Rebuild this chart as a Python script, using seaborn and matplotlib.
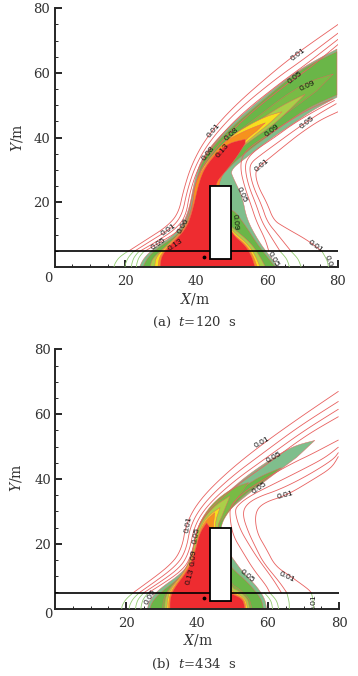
import matplotlib
matplotlib.use('Agg')
import matplotlib.pyplot as plt
import seaborn as sns

sns.set_style('ticks')
plt.rcParams['font.family'] = ['DejaVu Serif']
plt.rcParams['mathtext.fontset'] = 'dejavuserif'

TEAL = '#7fbe8c'
GREEN = '#6ab648'
TIP = '#78bb45'
LIME = '#aacf48'
YELLOW = '#f6e01e'
ORANGE = '#f6921e'
RED = '#ee2c30'
RED_LINE = '#e8605f'
GREEN_LINE = '#93cc70'

tick_values = [20, 40, 60, 80]
building_x = [43.8, 49.7]
building_y = [2.5, 24.9]
road_y = 4.8

# panel a, filled bands, outer to inner
a_teal = [(24, 0), (25, 2.5), (28, 5.8), (34.5, 10.4), (37.8, 16.6), (39.7, 28), (42, 34.6), (48.6, 42.9), (59, 52.7),
          (69.3, 61.4), (79.7, 67.4), (79.7, 52.5), (73, 48.6), (67.5, 44.4), (61.8, 40.3), (54.3, 34), (49.6, 30),
          (50.5, 27.4), (53, 21.8), (54.3, 14.5), (58, 7.3), (61, 3), (63, 0)]
a_green = [(25, 0), (26, 2.5), (28.9, 5.8), (35.5, 10.4), (38.5, 16.6), (40.2, 28), (42.5, 34.6), (49.6, 42.9), (60, 52.7),
           (69.8, 61.4), (79.7, 66.6), (79.7, 53.2), (72.2, 49.6), (66.5, 45.5), (60, 40.3), (52.4, 34.1), (47.7, 29),
           (44.9, 24.8), (47, 15), (49.8, 18.7), (53.8, 13), (57.1, 7.3), (60, 3.2), (62.3, 0)]
a_tip = [(78.7, 59.7), (72, 57.5), (65, 53), (58, 47), (52, 42), (47, 38), (46, 33), (52, 37), (60, 43.5), (68, 49.5), (74, 54.5)]
a_lime = [(70.7, 53.4), (64.6, 50.2), (59, 46.3), (52, 41.2), (46.5, 36.8), (42, 31), (40.3, 26), (38.3, 15.5), (35.5, 10.5),
          (30.5, 5.5), (27.5, 2.5), (27, 0), (59.5, 0), (58, 3.2), (55.5, 7.3), (51, 11.5), (47, 15), (46, 25), (48, 30),
          (50.5, 35), (56.2, 39.8), (61.8, 44), (66.5, 48.8)]
a_yellow = [(64.2, 48), (60.5, 46.9), (56, 44.6), (50.5, 41), (46, 36.5), (41.6, 30.5), (40, 26), (38.8, 16), (36, 10.8), (31, 5.8), (28.5, 2.8),
            (28.3, 0), (58, 0), (56.8, 3.2), (54.8, 6.8), (50.5, 10.8), (47, 15), (46, 25), (48, 30), (52.4, 37), (57.1, 41.3), (60, 43.8)]
a_orange = [(59.5, 44.6), (54.3, 42.4), (48.6, 39.3), (44.5, 34.5), (41.3, 29), (39.6, 26), (38.8, 16.5), (36.4, 11.1), (31.6, 6), (29.5, 3),
            (29.2, 0), (57.2, 0), (56.2, 3.2), (54.2, 6.8), (50, 10.5), (47, 15), (46, 25), (48, 30), (53.3, 38.8), (57, 42)]
a_red = [(53.8, 39.5), (48.6, 38.2), (43.9, 33.1), (41.1, 27.9), (38.8, 16.6), (36.9, 11.4), (32.2, 6.3), (30.1, 3.2), (29.8, 0),
         (56.6, 0), (55.7, 3.2), (53.8, 6.8), (49.8, 10.4), (47, 20), (45, 25.4), (48.6, 30), (51.5, 34.1), (53.8, 38.2)]

# panel a, contour lines
a_upper = [
    [(20.6, 4.7), (26, 8.5), (31.7, 12.5), (35, 16.6), (36.4, 23.8), (38.8, 32), (43, 40.3), (50.5, 49.6), (61.8, 60.4), (68.9, 66.5), (80, 75)],
    [(22.3, 4.7), (27.5, 8.3), (33, 12), (36, 16), (37.4, 23.5), (39.8, 31.5), (44, 39.3), (51.5, 48.4), (62.8, 58.5), (70, 64), (80, 72.3)],
    [(23.8, 4.7), (29, 8), (34, 11.6), (37, 15.5), (38.2, 23.2), (40.6, 31), (45, 38.3), (52.5, 47.2), (63.8, 57), (71, 62.7), (80, 70.4)],
    [(25.2, 4.7), (30, 7.8), (35, 11), (37.7, 15.5), (39, 23), (41.3, 30.5), (46, 37.5), (53.5, 46), (64.8, 56), (72, 61.5), (80, 68.8)],
]
a_lower = [
    [(80, 48), (75, 45.5), (69.3, 41.3), (64.6, 37.2), (59.9, 33), (57.6, 31), (56.6, 29), (57.5, 24.8), (60, 19.7), (61.8, 14.5), (64.6, 12.5), (71.7, 8.1), (75.5, 4.8)],
    [(79.5, 50.5), (74, 47), (68, 42.5), (63, 38.5), (58, 34.5), (55.5, 32.3), (55, 30), (56, 25), (58.5, 19), (60, 14), (63, 10), (66.8, 4.8)],
    [(79, 51.5), (73, 48), (67, 44), (62, 40), (56.5, 36), (54.1, 33), (53.8, 30), (54.8, 25), (57, 19), (58.5, 14), (61, 9.5), (63.7, 4.8)],
    [(78.5, 52), (72, 49), (66, 45), (60.5, 41), (55, 37), (52.8, 34), (52.5, 30), (53.6, 25), (55.5, 19), (57, 14), (59.5, 8.5), (60.5, 4.8)],
]
a_arcs = [
    [(20.6, 4.8), (18.2, 3), (17, 1), (16.8, 0)],
    [(22.3, 4.8), (20.8, 3), (20, 1), (19.9, 0)],
    [(23.8, 4.8), (22.4, 3), (21.8, 1), (21.7, 0)],
    [(25.2, 4.8), (23.8, 3), (23.2, 1), (23.1, 0)],
    [(75.5, 4.8), (77, 2), (77.3, 0)],
    [(66.8, 4.8), (68.8, 2.5), (69.6, 0)],
    [(63.7, 4.8), (65.6, 2.5), (66.3, 0)],
]
a_labels = ['0.01', '0.05', '0.09', '0.05', '0.09', '0.01', '0.01', '0.08', '0.08', '0.13', '0.05', '0.09', '0.01', '0.06', '0.05', '0.13', '0.01', '0.05', '0.01']
a_label_x = [68.9, 67.9, 71.4, 71.4, 61.3, 58.7, 44.9, 49.9, 43.5, 47.5, 52.9, 51, 32.2, 36.4, 29.4, 34.2, 73.6, 61.8, 77.3]
a_label_y = [65.8, 58.6, 56, 44.6, 42, 31.5, 42.2, 41.1, 35.2, 36, 22.3, 14, 11.4, 12.7, 7, 6.8, 6.3, 2.4, 1.1]
a_label_rot = [38, 38, 25, 38, 38, 40, 50, 42, 52, 50, -65, -85, 35, 60, 35, 35, -35, -60, -70]
a_dot = (42.1, 3.1)

# panel b, filled bands
b_teal = [(73.2, 51.9), (67.1, 50.2), (59.6, 45.3), (52.1, 39.4), (44.6, 31.7), (40.7, 25.5), (39.2, 17.3), (36.6, 11.6), (28.6, 5.5), (26.3, 1.7), (26.1, 0),
          (59.6, 0), (59.2, 2.9), (56.8, 7), (53, 11.1), (49.6, 16.3), (47, 20), (46.5, 27.6), (49.3, 30.7), (54.9, 35.8), (62.4, 42), (68, 46.6)]
b_green = [(63.8, 43.5), (56.8, 40.4), (48.4, 33.7), (42.7, 27.6), (39.9, 20.4), (38.5, 14.2), (35.2, 9.6), (29.6, 4.9), (27.2, 1.9), (26.8, 0),
           (58.7, 0), (58.2, 2.9), (54.9, 7.5), (50.2, 12.1), (49.6, 13.2), (47, 20), (46.5, 25.5), (49.3, 30.7), (54, 35.8), (59.6, 39.9)]
b_tip = [(54.5, 38.9), (50.2, 37.3), (45.5, 33.7), (42.3, 29.6), (39.9, 24.5), (38.5, 16.3), (35.7, 10.1), (31.9, 6), (30.5, 2.9), (30.3, 0),
         (55.4, 0), (54.9, 2.9), (52.1, 6), (49.6, 7.5), (47, 15), (45.5, 25), (47.4, 28), (51.2, 33.7)]
b_lime = [(49.3, 34.8), (45.3, 32), (42.3, 28.5), (39.9, 24), (38.5, 15.5), (36, 10.6), (32, 5.9), (31, 2.9), (30.9, 0),
          (54.8, 0), (54.4, 2.9), (51.8, 5.5), (49.6, 6.5), (47, 15), (45.5, 25), (47, 28.5)]
b_yellow = [(46.5, 31.2), (43.5, 29), (41, 25.5), (39.4, 18), (37, 12), (32.5, 6), (31.7, 2.9), (31.5, 0),
            (54.2, 0), (53.8, 2.9), (51, 4.9), (49.6, 5.5), (47, 15), (45, 25), (45.5, 28)]
b_orange = [(45, 29.6), (42.7, 27.5), (40.8, 24), (39.3, 17.5), (37.3, 12), (32.9, 6), (32.1, 2.9), (32, 0),
            (53.8, 0), (53.4, 2.9), (50.5, 4.7), (49.6, 5), (47, 15), (44.5, 25), (44.8, 27.5)]
b_red = [(42.7, 26.5), (40.8, 23.5), (39.4, 17.3), (37.6, 12.1), (33.3, 6), (32.4, 2.9), (32.4, 0),
         (53.5, 0), (53, 2.9), (50.2, 4.4), (49.6, 4.6), (47, 15), (43.7, 25)]

# panel b, contour lines
b_upper = [
    [(22, 4.9), (32.4, 13.2), (35.7, 18.3), (37, 26.5), (40.8, 33.7), (48.4, 42), (57.7, 50.2), (69, 59), (79.8, 67)],
    [(23.7, 4.9), (33.8, 12.7), (36.9, 17.8), (38.2, 26), (42, 32.7), (49.3, 40.4), (58.7, 48.1), (69, 56.4), (79.8, 63.9)],
    [(25, 4.9), (34.9, 12.1), (37.8, 17.3), (39.2, 25.5), (42.9, 31.9), (50.2, 39.2), (59.6, 46.6), (70, 54.8), (79.8, 61.5)],
    [(26.3, 4.9), (35.9, 11.6), (38.6, 16.8), (39.9, 25), (43.8, 31.2), (51.2, 38.1), (60.6, 45.3), (70.9, 53.6), (79.8, 59.2)],
]
b_lower = [
    [(79.8, 46.9), (78, 43.5), (72.8, 39.9), (65.3, 35), (58.7, 32.7), (56.3, 29.6), (56.8, 23.5), (59.6, 18.3), (62, 13.2), (66.2, 10.1), (71.4, 6), (72.2, 4.9)],
    [(79.8, 48.1), (78.4, 46), (70.9, 40.9), (63.4, 36.8), (56.8, 34.3), (53.5, 31.7), (52.9, 28.6), (54.5, 23.5), (56.8, 18.3), (58.7, 14.2), (63.4, 8), (65.3, 4.9)],
    [(79.8, 49.8), (76, 46.5), (69, 42.5), (61.5, 38.4), (54.9, 34.8), (51.2, 31.7), (50.7, 29.6), (52.1, 24.5), (54.9, 19.3), (57.3, 15.2), (61.5, 9), (63.8, 4.9)],
    [(79.8, 52), (72, 47.5), (67.1, 45), (59.6, 40.4), (53, 35.8), (49.3, 31.7), (49.3, 27.6), (50.2, 22.4), (53, 17.3), (55.9, 12.1), (59.6, 7), (60.5, 4.9)],
]
b_arcs = [
    [(22, 4.9), (20, 3), (18.9, 1), (18.8, 0)],
    [(23.7, 4.9), (21.9, 3), (21, 1), (20.9, 0)],
    [(25, 4.9), (23.4, 3), (22.8, 1), (22.7, 0)],
    [(26.3, 4.9), (24.8, 3), (24.3, 1), (24.2, 0)],
    [(72.2, 4.9), (72.7, 2.9), (72.8, 0)],
    [(65.3, 4.9), (66, 2), (66, 0)],
    [(60.5, 4.9), (62.5, 2.5), (63, 0)],
    [(59, 4.9), (60.9, 2.5), (61.3, 0)],
]
b_labels = ['0.01', '0.05', '0.05', '0.01', '0.01', '0.05', '0.09', '0.13', '0.05', '0.01', '0.05', '0.01']
b_label_x = [58.2, 61.8, 57.6, 64.8, 37.6, 39.9, 39.2, 38, 54.2, 65.3, 26.9, 73]
b_label_y = [51.2, 46.6, 37.3, 34.8, 26, 22.6, 15.7, 9.9, 9.9, 9.8, 3.6, 1.9]
b_label_rot = [30, 30, 35, 15, 80, 80, 85, 75, -40, -25, 60, 90]
b_dot = (42, 3.4)


def round_corners(pts, passes=3):
    # corner cutting so the read-off points draw as smooth contours, axis edge points stay put
    for _ in range(passes):
        out = [pts[0]]
        for i in range(len(pts) - 1):
            p, q = pts[i], pts[i + 1]
            if p[1] == 0 and q[1] == 0 or p[0] >= 79.5 and q[0] >= 79.5:
                out.append(q)
                continue
            if i > 0 and not (p[1] == 0 or p[0] >= 79.5):
                out.append((0.75 * p[0] + 0.25 * q[0], 0.75 * p[1] + 0.25 * q[1]))
            if i < len(pts) - 2 and not (q[1] == 0 or q[0] >= 79.5):
                out.append((0.25 * p[0] + 0.75 * q[0], 0.25 * p[1] + 0.75 * q[1]))
            else:
                out.append(q)
        pts = out
    return pts


def contour(ax, pts, color, lw=0.6):
    pts = round_corners(pts)
    sns.lineplot(x=[p[0] for p in pts], y=[p[1] for p in pts], sort=False, estimator=None,
                 color=color, linewidth=lw, ax=ax, legend=False, zorder=3)


def draw_panel(ax, bands, upper, lower, arcs, labels, lx, ly, lrot, dot):
    for pts, col in bands:
        pts = round_corners(pts)
        ax.fill([p[0] for p in pts], [p[1] for p in pts], facecolor=col, edgecolor=RED_LINE, linewidth=0.3, zorder=2)
    for pts in upper + lower:
        contour(ax, pts, RED_LINE)
    for pts in arcs:
        contour(ax, pts, GREEN_LINE)
    # building and road
    ax.fill([building_x[0], building_x[1], building_x[1], building_x[0]],
            [building_y[0], building_y[0], building_y[1], building_y[1]],
            facecolor='white', edgecolor='black', linewidth=1.3, zorder=5)
    sns.lineplot(x=[0, 80], y=[road_y, road_y], color='black', linewidth=1.2, ax=ax, legend=False, zorder=4)
    ax.scatter([dot[0]], [dot[1]], s=3, color='black', zorder=6)
    for t, x, y, r in zip(labels, lx, ly, lrot):
        ax.text(x, y, t, rotation=r, ha='center', va='center', fontsize=6, family='Liberation Sans',
                color='#111111', zorder=7, clip_on=True, rotation_mode='anchor')
    ax.set_xlim(0, 80)
    ax.set_ylim(0, 80)
    ax.set_xlabel('')
    ax.set_ylabel('')
    ax.set_xticks(tick_values)
    ax.set_yticks(tick_values)
    ax.set_xticklabels([str(v) for v in tick_values], fontsize=9.5, color='#333333')
    ax.set_yticklabels([str(v) for v in tick_values], fontsize=9.5, color='#333333')
    ax.set_xticks(range(0, 81, 5), minor=True)
    ax.set_yticks(range(0, 81, 5), minor=True)
    ax.tick_params(axis='both', which='major', direction='in', length=5, width=1.4)
    ax.tick_params(axis='both', which='minor', direction='in', length=2.5, width=0.7)
    ax.tick_params(axis='x', which='major', pad=6)
    ax.tick_params(axis='y', which='major', pad=3)
    sns.despine(ax=ax)
    ax.spines['left'].set_linewidth(1.4)
    ax.spines['bottom'].set_linewidth(1.4)
    ax.patch.set_alpha(0)


W, H = 358, 676
fig = plt.figure(figsize=(W / 100, H / 100), dpi=100)
ax_a = fig.add_axes([54.5 / W, (H - 267) / H, 283.5 / W, 258.7 / H])
ax_b = fig.add_axes([55 / W, (H - 608.7) / H, 284 / W, 259.4 / H])

draw_panel(ax_a, [(a_teal, TEAL), (a_green, GREEN), (a_tip, TIP), (a_lime, LIME), (a_yellow, YELLOW), (a_orange, ORANGE), (a_red, RED)],
           a_upper, a_lower, a_arcs, a_labels, a_label_x, a_label_y, a_label_rot, a_dot)
draw_panel(ax_b, [(b_teal, TEAL), (b_green, GREEN), (b_tip, TIP), (b_lime, LIME), (b_yellow, YELLOW), (b_orange, ORANGE), (b_red, RED)],
           b_upper, b_lower, b_arcs, b_labels, b_label_x, b_label_y, b_label_rot, b_dot)


def px_text(x, y, s, **kw):
    fig.text(x / W, 1 - y / H, s, ha='center', va='center', color='#333333', **kw)


px_text(48, 278, '0', fontsize=9.5)
px_text(195, 299, r'$\mathit{X}$/m', fontsize=10)
px_text(17, 138, r'$\mathit{Y}$/m', fontsize=10, rotation=90)
px_text(194, 322, r'(a)  $\mathit{t}$=120  s', fontsize=9.5)

px_text(48, 615, '0', fontsize=9.5)
px_text(198, 640, r'$\mathit{X}$/m', fontsize=10)
px_text(16, 478, r'$\mathit{Y}$/m', fontsize=10, rotation=90)
px_text(194, 664, r'(b)  $\mathit{t}$=434  s', fontsize=9.5)

fig.savefig('out.png', dpi=100)
